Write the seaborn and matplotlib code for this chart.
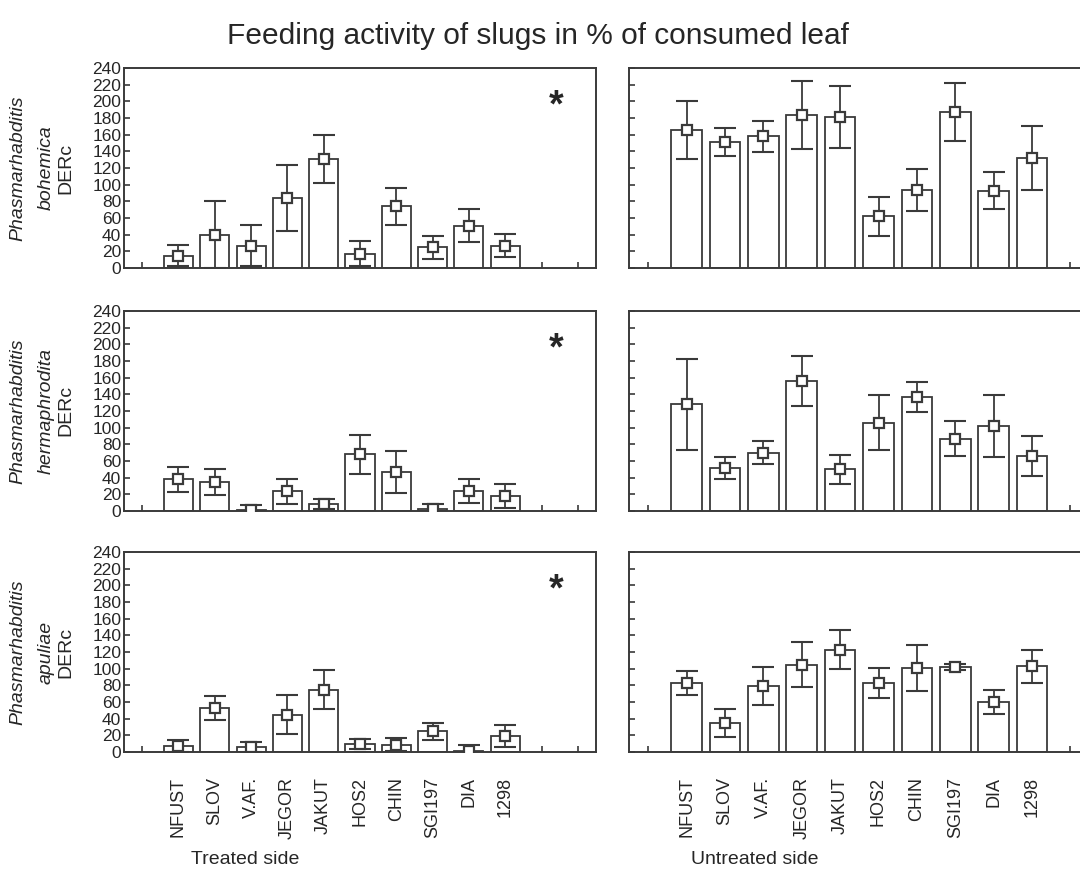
import matplotlib
matplotlib.use("Agg")
import matplotlib.pyplot as plt
import numpy as np
import pandas as pd
import seaborn as sns

sns.set_style("white")
plt.rcParams["font.family"] = ["Liberation Sans", "DejaVu Sans"]

# Strains (x categories), blank slots keep the empty positions at both ends.
strains = ["NFUST", "SLOV", "V.AF.", "JEGOR", "JAKUT", "HOS2", "CHIN", "SGI197", "DIA", "1298"]
order = [" "] + strains + ["  ", "   "]

species = ["bohemica", "hermaphrodita", "apuliae"]
sides = ["Treated side", "Untreated side"]

# Mean % consumed leaf and error (half-width).
bohemica_treated = [15, 40, 27, 84, 131, 17, 74, 25, 51, 27]
bohemica_treated_err = [13, 40, 25, 40, 29, 15, 22, 14, 20, 14]
bohemica_untreated = [166, 151, 158, 184, 181, 62, 94, 187, 93, 132]
bohemica_untreated_err = [35, 17, 19, 41, 37, 23, 25, 35, 22, 38]

hermaphrodita_treated = [38, 35, 1, 24, 8, 68, 47, 2, 24, 18]
hermaphrodita_treated_err = [15, 16, 6, 15, 6, 23, 25, 6, 14, 14]
hermaphrodita_untreated = [128, 52, 70, 156, 50, 106, 137, 87, 102, 66]
hermaphrodita_untreated_err = [55, 13, 14, 30, 17, 33, 18, 21, 37, 24]

apuliae_treated = [7.5, 53, 6.5, 45, 75, 10, 9, 25, 1.5, 19]
apuliae_treated_err = [7, 14, 6, 23, 23, 6, 8, 10, 6.5, 13]
apuliae_untreated = [83, 35, 79, 105, 123, 83, 101, 102, 60, 103]
apuliae_untreated_err = [14, 16.5, 23, 27, 23, 18, 28, 3.5, 14.5, 20]

means = {
    ("bohemica", "Treated side"): (bohemica_treated, bohemica_treated_err),
    ("bohemica", "Untreated side"): (bohemica_untreated, bohemica_untreated_err),
    ("hermaphrodita", "Treated side"): (hermaphrodita_treated, hermaphrodita_treated_err),
    ("hermaphrodita", "Untreated side"): (hermaphrodita_untreated, hermaphrodita_untreated_err),
    ("apuliae", "Treated side"): (apuliae_treated, apuliae_treated_err),
    ("apuliae", "Untreated side"): (apuliae_untreated, apuliae_untreated_err),
}

W, H = 1080, 876
fig = plt.figure(figsize=(W / 100, H / 100), dpi=100)

col_left = [124 / W, 629 / W]
col_width = [472 / W, 499 / W]
row_bottom = [(H - 268) / H, (H - 511) / H, (H - 752) / H]
row_height = 200 / H

edge = "#3a3a3a"

for r, sp in enumerate(species):
    for c, side in enumerate(sides):
        ax = fig.add_axes([col_left[c], row_bottom[r], col_width[c], row_height])
        vals, errs = means[(sp, side)]
        df = pd.DataFrame({"strain": strains, "value": vals, "err": errs})

        sns.barplot(data=df, x="strain", y="value", order=order, color="white",
                    edgecolor=edge, linewidth=1.3, width=0.8, errorbar=None,
                    saturation=1, ax=ax)
        pos = [order.index(s) for s in df["strain"]]
        ax.errorbar(pos, df["value"], yerr=df["err"], fmt="none", ecolor=edge,
                    elinewidth=1.3, capsize=8, capthick=1.5, zorder=3)
        ax.plot(pos, df["value"], ls="none", marker="s", ms=7, mfc="white",
                mec=edge, mew=1.6, zorder=4)

        ax.set_xlim(-0.5, len(order) - 0.5)
        ax.set_ylim(0, 240)
        ax.set_yticks(np.arange(0, 241, 20))
        ax.set_xlabel("")
        ax.set_ylabel("")
        ax.tick_params(direction="in", length=4, width=1.2, color=edge,
                       labelsize=12.5, bottom=True, left=True, top=False, right=False)
        ax.yaxis.set_tick_params(pad=2)
        for s in ax.spines.values():
            s.set_color(edge)
            s.set_linewidth(1.4)

        if c == 1:
            ax.tick_params(labelleft=False)
        if r < 2:
            ax.tick_params(labelbottom=False)
        else:
            ax.tick_params(axis="x", pad=18, labelsize=13, labelrotation=90)
            for lab in ax.get_xticklabels():
                lab.set_va("top")
                lab.set_ha("center")

        if c == 0:
            ax.text(11.4, 194, "*", fontsize=27, fontweight="bold", ha="center", va="center")
            ax.text(-0.225, 0.5, "Phasmarhabditis", transform=ax.transAxes,
                    rotation=90, ha="center", va="center", fontsize=14, style="italic")
            ax.text(-0.165, 0.5, sp, transform=ax.transAxes,
                    rotation=90, ha="center", va="center", fontsize=14, style="italic")
            ax.text(-0.124, 0.5, "DERc", transform=ax.transAxes,
                    rotation=90, ha="center", va="center", fontsize=14)

fig.text(0.498, (H - 36) / H, "Feeding activity of slugs in % of consumed leaf",
         ha="center", va="center", fontsize=21.5)
fig.text(245 / W, (H - 859) / H, sides[0], ha="center", va="center", fontsize=14)
fig.text(755 / W, (H - 859) / H, sides[1], ha="center", va="center", fontsize=14)

fig.savefig("out.png", dpi=100)
